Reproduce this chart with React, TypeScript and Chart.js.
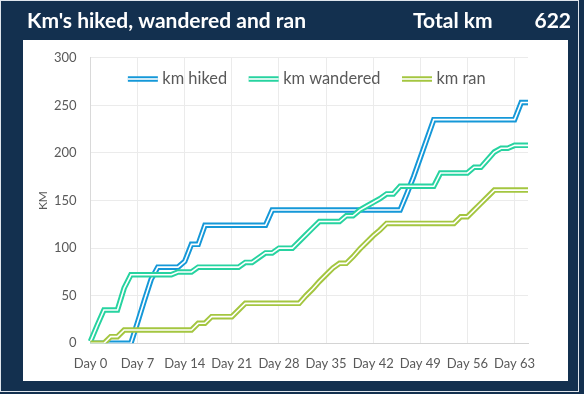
import { useEffect, useRef } from 'react';
import { Chart, registerables } from 'chart.js';

Chart.register(...registerables);

const days = [
  0, 1, 2, 3, 4, 5, 6, 7, 8, 9, 10, 11, 12, 13, 14, 15, 16, 17, 18, 19, 20, 21,
  22, 23, 24, 25, 26, 27, 28, 29, 30, 31, 32, 33, 34, 35, 36, 37, 38, 39, 40, 41,
  42, 43, 44, 45, 46, 47, 48, 49, 50, 51, 52, 53, 54, 55, 56, 57, 58, 59, 60, 61,
  62, 63, 64, 65,
];

const hiked = [
  0, 0, 0, 0, 0, 0, 0,
  22, 45, 67, 80, 80, 80, 80,
  86, 104, 104, 124, 124, 124, 124,
  124, 124, 124, 124, 124, 124, 140,
  140, 140, 140, 140, 140, 140, 140,
  140, 140, 140, 140, 140, 140, 140,
  140, 140, 140, 140, 140, 157, 175,
  195, 215, 235, 235, 235, 235, 235,
  235, 235, 235, 235, 235, 235, 235,
  235, 253, 253,
];

const wandered = [
  2, 19, 35, 35, 35, 58, 72,
  72, 72, 72, 72, 72, 72, 75,
  75, 75, 80, 80, 80, 80, 80,
  80, 80, 85, 85, 90, 95, 95,
  100, 100, 100, 107, 114, 121, 128,
  128, 128, 128, 134, 134, 140, 144,
  148, 152, 157, 157, 165, 165, 165,
  165, 165, 165, 179, 179, 179, 179,
  179, 185, 185, 193, 201, 205, 205,
  208, 208, 208,
];

const ran = [
  0, 0, 0, 7, 7, 14, 14,
  14, 14, 14, 14, 14, 14, 14,
  14, 14, 21, 21, 28, 28, 28,
  28, 35, 42, 42, 42, 42, 42,
  42, 42, 42, 42, 50, 57, 65,
  72, 79, 84, 84, 91, 99, 106,
  113, 119, 126, 126, 126, 126, 126,
  126, 126, 126, 126, 126, 126, 133,
  133, 140, 147, 154, 161, 161, 161,
  161, 161, 161,
];

const seriesNames = ['km hiked', 'km wandered', 'km ran'];
const seriesColors = ['#1598d8', '#27d3a0', '#a4c640'];
const titleText = "Km's hiked, wandered and ran";
const totalLabel = 'Total km';
const axisTitle = 'KM';
const dayLabels = days.map((d) => `Day ${d}`);

const NAVY = '#13304f';
const TEXT = '#595959';
const FONT = 'Lato, "Open Sans", sans-serif';

const framePlugin = {
  id: 'frame',
  beforeDraw(chart: any) {
    const ctx = chart.ctx as CanvasRenderingContext2D;
    ctx.save();
    ctx.fillStyle = NAVY;
    ctx.fillRect(0, 0, chart.width, chart.height);
    ctx.strokeStyle = '#dfe5ec';
    ctx.lineWidth = 1;
    ctx.strokeRect(0.5, 0.5, 578, 391);
    ctx.fillStyle = '#ffffff';
    ctx.fillRect(23, 40, 545, 341);
    ctx.font = `bold 21px ${FONT}`;
    ctx.textBaseline = 'alphabetic';
    ctx.textAlign = 'left';
    ctx.fillText(titleText, 27, 28);
    ctx.fillText(totalLabel, 413, 28);
    const total = hiked[hiked.length - 1] + wandered[wandered.length - 1] + ran[ran.length - 1];
    ctx.textAlign = 'right';
    ctx.fillText(String(total), 571, 28);
    ctx.restore();
  },
};

const legendPlugin = {
  id: 'doubleLegend',
  afterDatasetsDraw(chart: any) {
    const ctx = chart.ctx as CanvasRenderingContext2D;
    const area = chart.chartArea;
    ctx.save();
    ctx.font = `16.4px ${FONT}`;
    const swatch = 30;
    const gap = 4.5;
    const itemGap = 21.5;
    const widths = seriesNames.map((n) => ctx.measureText(n).width);
    const total =
      widths.reduce((a, w) => a + swatch + gap + w, 0) + itemGap * (seriesNames.length - 1);
    let x = (area.left + area.right) / 2 - total / 2 - 2.5;
    const yLine = area.top + 21.2;
    const yText = area.top + 26.5;
    seriesNames.forEach((name, i) => {
      ctx.lineCap = 'butt';
      ctx.strokeStyle = seriesColors[i];
      ctx.lineWidth = 5.5;
      ctx.beginPath();
      ctx.moveTo(x, yLine);
      ctx.lineTo(x + swatch, yLine);
      ctx.stroke();
      ctx.strokeStyle = '#ffffff';
      ctx.lineWidth = 1.6;
      ctx.beginPath();
      ctx.moveTo(x, yLine);
      ctx.lineTo(x + swatch, yLine);
      ctx.stroke();
      ctx.fillStyle = TEXT;
      ctx.textBaseline = 'alphabetic';
      ctx.textAlign = 'left';
      ctx.fillText(name, x + swatch + gap, yText);
      x += swatch + gap + widths[i] + itemGap;
    });
    ctx.restore();
  },
};

function makeDatasets() {
  const series = [hiked, wandered, ran];
  const out: any[] = [];
  series.forEach((data, i) => {
    const base = 5 - i * 2;
    out.push({
      label: seriesNames[i],
      data,
      borderColor: seriesColors[i],
      borderWidth: 5.5,
      order: base,
      pointRadius: 0,
      tension: 0,
      borderJoinStyle: 'miter',
      fill: false,
    });
    out.push({
      label: seriesNames[i] + ' inner',
      data,
      borderColor: '#ffffff',
      borderWidth: 1.6,
      order: base - 1,
      pointRadius: 0,
      tension: 0,
      borderJoinStyle: 'miter',
      fill: false,
    });
  });
  return out;
}

export default function App() {
  const ref = useRef<HTMLCanvasElement | null>(null);

  useEffect(() => {
    if (!ref.current) return;
    const chart = new Chart(ref.current, {
      type: 'line',
      data: { labels: dayLabels, datasets: makeDatasets() },
      options: {
        responsive: false,
        animation: false,
        devicePixelRatio: 1,
        layout: { padding: { left: 0, right: 56, top: 57.8, bottom: 0 } },
        plugins: {
          legend: { display: false },
          tooltip: { enabled: false },
        },
        scales: {
          x: {
            type: 'category',
            grid: {
              color: (c: any) => (c.index % 7 === 0 ? '#ebebeb' : 'rgba(0,0,0,0)'),
              drawTicks: false,
            },
            border: { color: '#d4d4d4' },
            ticks: {
              autoSkip: false,
              maxRotation: 0,
              minRotation: 0,
              padding: 13,
              color: TEXT,
              font: { family: FONT, size: 13 },
              callback: (_v: any, i: number) => (i % 7 === 0 ? dayLabels[i] : ''),
            },
            afterFit: (s: any) => {
              s.height = 50.7;
            },
          },
          y: {
            min: 0,
            max: 300,
            grid: { color: '#ebebeb', drawTicks: false },
            border: { color: '#d9d9d9' },
            ticks: {
              stepSize: 50,
              padding: 14,
              color: TEXT,
              font: { family: FONT, size: 13 },
            },
            title: {
              display: true,
              text: axisTitle,
              color: TEXT,
              font: { family: FONT, size: 12 },
              padding: { top: 35.5, bottom: 0 },
            },
            afterFit: (s: any) => {
              s.width = 90.5;
            },
          },
        },
      },
      plugins: [framePlugin, legendPlugin],
    });
    return () => chart.destroy();
  }, []);

  return (
    <div style={{ position: 'fixed', left: 0, top: 0, width: 584, height: 394, background: NAVY }}>
      <canvas ref={ref} width={584} height={394} style={{ display: 'block' }} />
    </div>
  );
}
